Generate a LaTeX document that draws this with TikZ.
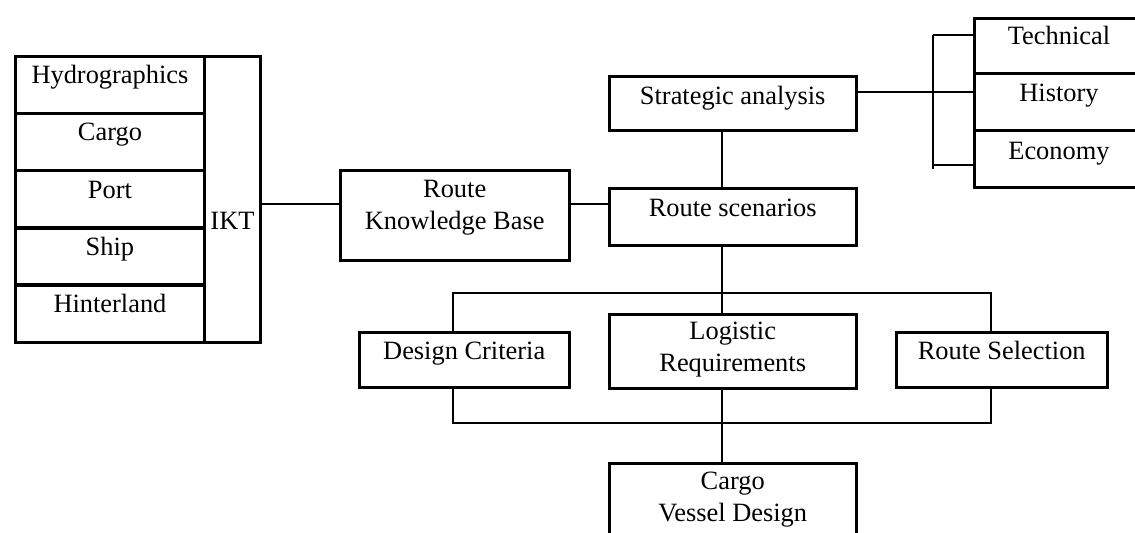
\documentclass[tikz,border=0pt]{standalone}
\usepackage{fontspec}
\setmainfont{Liberation Serif}
\usepackage{tikz}

\begin{document}
\begin{tikzpicture}[x=0.5pt,y=-0.5pt,
  blk/.style={draw,line width=1.7pt,inner sep=0pt,anchor=north west,align=center,font=\fontsize{13.2pt}{16pt}\selectfont},
  rowbox/.style={blk,minimum width=94.75pt,text height=13.75pt,text depth=14.85pt},
  midbox/.style={blk,minimum width=123.5pt},
  sidebox/.style={blk,minimum width=84.75pt},
  conn/.style={line width=0.8pt}]
\useasboundingbox (0,0) rectangle (1135,532);
\clip (0,0) rectangle (1135,532);
\node[rowbox] (hyd) at (13.5,54.5) {Hydrographics};
\node[rowbox] (cargo) at (13.5,111.7) {Cargo};
\node[rowbox] (port) at (13.5,168.9) {Port};
\node[rowbox] (ship) at (13.5,226.1) {Ship};
\node[rowbox] (hint) at (13.5,283.3) {Hinterland};
\node[blk,minimum width=27.75pt,text height=86.5pt,text depth=56.5pt] (ikt) at (203,54.5) {IKT};
\node[blk,minimum width=114.5pt,text height=29.5pt,text depth=15.5pt] (rkb) at (338.5,168.5) {Route\\Knowledge Base};
\node[midbox,text height=14pt,text depth=13pt] (sa) at (607.5,74.5) {Strategic analysis};
\node[midbox,text height=14pt,text depth=14.5pt] (rs) at (607.5,186.5) {Route scenarios};
\node[sidebox,text height=13pt,text depth=14.75pt] (tech) at (972.5,16.5) {Technical};
\node[sidebox,text height=13.75pt,text depth=14.5pt] (hist) at (972.5,72) {History};
\node[sidebox,text height=14.5pt,text depth=14pt] (econ) at (972.5,128.5) {Economy};
\node[blk,minimum width=105pt,text height=13.5pt,text depth=14pt] (dc) at (357.5,330.5) {Design Criteria};
\node[midbox,text height=28.5pt,text depth=8.5pt] (lr) at (607.5,312.5) {Logistic\\Requirements};
\node[blk,minimum width=105.5pt,text height=13.5pt,text depth=14pt] (rsel) at (894.5,330.5) {Route Selection};
\node[midbox,text height=29pt,text depth=13pt] (cvd) at (607.5,461.5) {Cargo\\Vessel Design};
\coordinate (lk) at (0,204);
\coordinate (spine) at (722,0);
\coordinate (bt) at (933,35);
\coordinate (bm) at (933,92);
\coordinate (bb) at (933,165);
\coordinate (tl) at (453,293);
\coordinate (tr) at (991,293);
\coordinate (bl) at (453,423);
\coordinate (br) at (991,423);
\draw[conn] (ikt.east |- lk) -- (rkb.west |- lk);
\draw[conn] (rkb.east |- lk) -- (rs.west |- lk);
\draw[conn] (spine |- sa.south) -- (spine |- rs.north);
\draw[conn] (sa.east |- bm) -- (hist.west |- bm);
\draw[conn] (bt) -- (933,169);
\draw[conn] (bt) -- (tech.west |- bt);
\draw[conn] (bb) -- (econ.west |- bb);
\draw[conn] (spine |- rs.south) -- (spine |- lr.north);
\draw[conn] (tl |- dc.north) -- (tl) -- (tr) -- (tr |- rsel.north);
\draw[conn] (bl |- dc.south) -- (bl) -- (br) -- (br |- rsel.south);
\draw[conn] (spine |- lr.south) -- (spine |- cvd.north);
\end{tikzpicture}
\end{document}
